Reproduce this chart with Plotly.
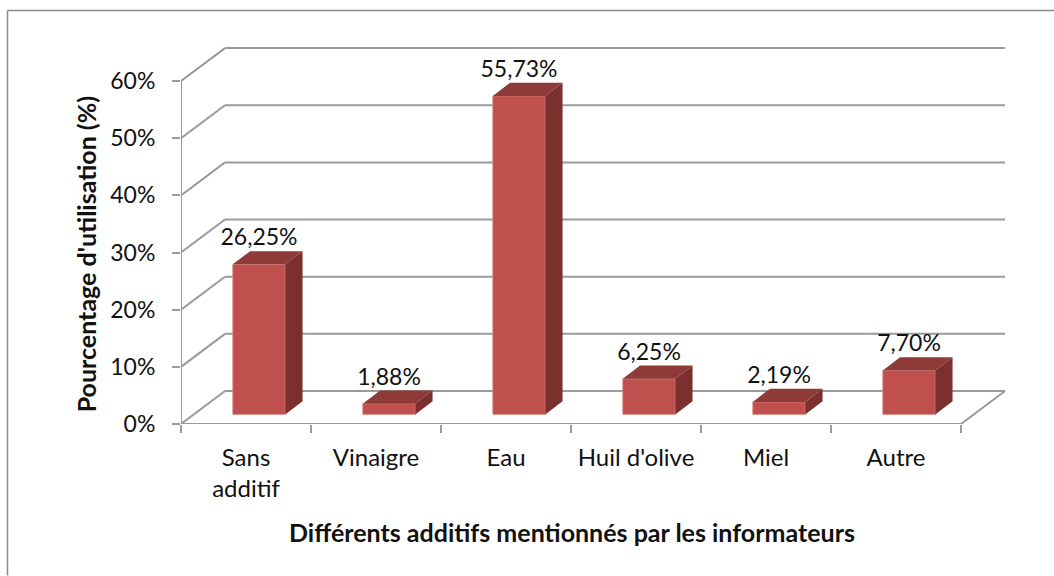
import plotly.graph_objects as go

categories = ["Sans<br>additif", "Vinaigre", "Eau", "Huil d'olive", "Miel", "Autre"]
values = [26.25, 1.88, 55.73, 6.25, 2.19, 7.70]
labels = ["26,25%", "1,88%", "55,73%", "6,25%", "2,19%", "7,70%"]
y_ticks = [0, 10, 20, 30, 40, 50, 60]
x_title = "Différents additifs mentionnés par les informateurs"
y_title = "Pourcentage d'utilisation (%)"

FONT = "Lato"
FS_CAT = 24
FS_NUM = 23
FS_TITLE = 25
INK = "#111111"
GRID = "#9a9a9a"
FRONT = "#C0504D"
TOP = "#8E3A38"
SIDE = "#7B2F2E"

W, H = 1054, 576
PL, PR = 181, 1010
PT, PB = 40, 424.3
PX_X = 130.0
PX_Y = 57.2 / 10
XMAX = (PR - PL) / PX_X
YMAX = (PB - PT) / PX_Y
WALL_DX, WALL_DY = 44 / PX_X, 33 / PX_Y
DEPTH_DX, DEPTH_DY = 17.3 / PX_X, 13.2 / PX_Y
BAR_W = 52.5 / PX_X
BAR_DX, BAR_DY = 13 / PX_X, 9.6 / PX_Y

n = len(categories)
centers = [i + 0.5 for i in range(n)]
bar_x = [c + BAR_DX for c in centers]

fig = go.Figure()

shapes = [
    dict(type="line", xref="paper", yref="paper",
         x0=(7.5 - PL) / (PR - PL), x1=(7.5 - PL) / (PR - PL),
         y0=(PB - 576) / (PB - PT), y1=(PB - 10.5) / (PB - PT),
         line=dict(color="#8c8c8c", width=1.5), layer="below"),
    dict(type="line", xref="paper", yref="paper",
         x0=(7.5 - PL) / (PR - PL), x1=(1054 - PL) / (PR - PL),
         y0=(PB - 10.5) / (PB - PT), y1=(PB - 10.5) / (PB - PT),
         line=dict(color="#8c8c8c", width=1.5), layer="below"),
]
line = dict(color=GRID, width=2)
for t in y_ticks:
    shapes.append(dict(type="line", x0=0, y0=t, x1=WALL_DX, y1=t + WALL_DY, line=line, layer="below"))
    shapes.append(dict(type="line", x0=WALL_DX, y0=t + WALL_DY, x1=n + WALL_DX, y1=t + WALL_DY, line=line, layer="below"))
shapes.append(dict(type="line", x0=n, y0=0, x1=n + WALL_DX, y1=WALL_DY, line=line, layer="below"))
shapes.append(dict(type="line", x0=0, y0=0, x1=0, y1=y_ticks[-1], line=line, layer="below"))
shapes.append(dict(type="line", x0=0, y0=0, x1=n, y1=0, line=line, layer="below"))

fig.add_trace(go.Bar(
    x=bar_x, y=values, base=BAR_DY, width=BAR_W,
    marker=dict(color=FRONT, line=dict(color="#DB8F8C", width=0.8)),
    showlegend=False, hoverinfo="skip",
))

for x, v in zip(bar_x, values):
    l, r = x - BAR_W / 2, x + BAR_W / 2
    b, t = BAR_DY, BAR_DY + v
    fig.add_trace(go.Scatter(
        x=[l, r, r + DEPTH_DX, l + DEPTH_DX, l],
        y=[t, t, t + DEPTH_DY, t + DEPTH_DY, t],
        fill="toself", fillcolor=TOP, mode="none", showlegend=False, hoverinfo="skip"))
    fig.add_trace(go.Scatter(
        x=[r, r + DEPTH_DX, r + DEPTH_DX, r, r],
        y=[b, b + DEPTH_DY, t + DEPTH_DY, t, b],
        fill="toself", fillcolor=SIDE, mode="none", showlegend=False, hoverinfo="skip"))

fig.add_trace(go.Scatter(
    x=bar_x,
    y=[v + BAR_DY + DEPTH_DY for v in values],
    mode="text", text=labels, textposition="top center",
    textfont=dict(family=FONT, size=FS_NUM, color=INK),
    showlegend=False, hoverinfo="skip", cliponaxis=False,
))

fig.update_layout(
    width=W, height=H, autosize=False,
    margin=dict(l=PL, r=W - PR, t=PT, b=H - PB, pad=0),
    paper_bgcolor="white", plot_bgcolor="white",
    shapes=shapes,
    font=dict(family=FONT, size=FS_CAT, color=INK),
    xaxis=dict(
        range=[0, XMAX], showgrid=False, zeroline=False, showline=False,
        tickmode="array", tickvals=centers, ticktext=categories, ticks="",
        ticklabelstandoff=17,
        tickfont=dict(family=FONT, size=FS_CAT, color=INK),
        minor=dict(tickmode="array", tickvals=list(range(n + 1)), ticks="outside",
                   ticklen=8, tickwidth=2, tickcolor=GRID, showgrid=False),
    ),
    yaxis=dict(
        range=[0, YMAX], showgrid=False, zeroline=False, showline=False,
        tickmode="array", tickvals=y_ticks, ticktext=[f"{t}%" for t in y_ticks],
        ticks="outside", ticklen=8, tickwidth=2, tickcolor=GRID,
        ticklabelstandoff=12,
        tickfont=dict(family=FONT, size=FS_NUM, color=INK),
    ),
    annotations=[
        dict(text=f"<b>{x_title}</b>", xref="paper", yref="paper", showarrow=False,
             xanchor="center", yanchor="middle",
             x=(571.5 - PL) / (PR - PL), y=(PB - 532) / (PB - PT),
             font=dict(family=FONT, size=FS_TITLE, color=INK)),
        dict(text=f"<b>{y_title}</b>", xref="paper", yref="paper", showarrow=False,
             textangle=-90, xanchor="center", yanchor="middle",
             x=(85.5 - PL) / (PR - PL), y=(PB - 255) / (PB - PT),
             font=dict(family=FONT, size=FS_TITLE, color=INK)),
    ],
)

fig.write_html("out.html", config=dict(displayModeBar=False),
               post_script="document.body.style.margin='0';document.documentElement.style.overflow='hidden';")
